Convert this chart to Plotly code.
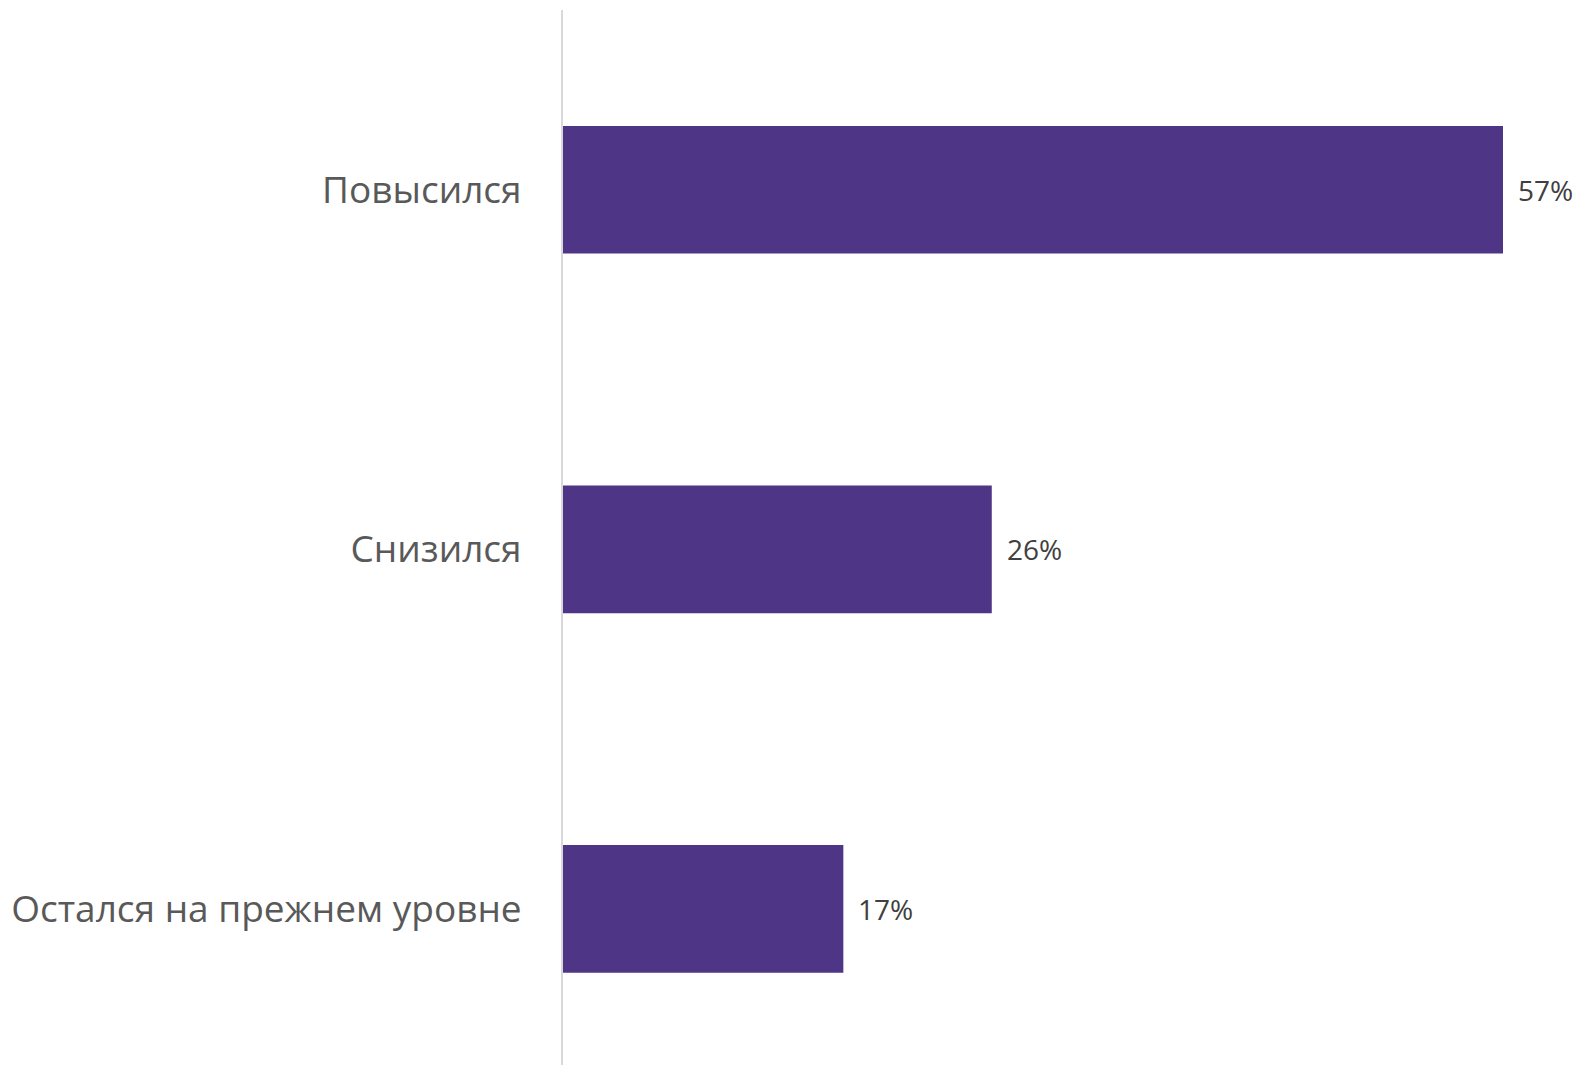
import plotly.graph_objects as go

categories = ["Повысился", "Снизился", "Остался на прежнем уровне"]
values = [57, 26, 17]
labels = ["57%", "26%", "17%"]

BAR_COLOR = "#4e3585"

fig = go.Figure()
fig.add_trace(go.Bar(
    y=categories,
    x=values,
    orientation="h",
    marker=dict(color=BAR_COLOR, line=dict(width=0)),
    hoverinfo="skip",
))

for c, v, t in zip(categories, values, labels):
    fig.add_annotation(
        x=v, y=c, text=t, showarrow=False,
        xanchor="left", yanchor="middle", xshift=13,
        font=dict(family="Open Sans", size=28, color="#404040"),
    )

fig.update_layout(
    width=1573, height=1057,
    margin=dict(l=555, r=0, t=2, b=0, autoexpand=False),
    paper_bgcolor="white", plot_bgcolor="white",
    bargap=0.645,
    showlegend=False,
    xaxis=dict(range=[0, 61.73], showgrid=False, zeroline=False,
               showticklabels=False, showline=False, fixedrange=True,
               automargin=False),
    yaxis=dict(type="category", categoryorder="array", categoryarray=categories,
               range=[2.434, -0.5], showgrid=False, zeroline=False,
               showline=True, linecolor="#d9d9d9", linewidth=2,
               ticks="", ticklabelstandoff=32, automargin=False,
               tickfont=dict(family="Open Sans", size=37, color="#595959")),
)

fig.write_html("out.html")
